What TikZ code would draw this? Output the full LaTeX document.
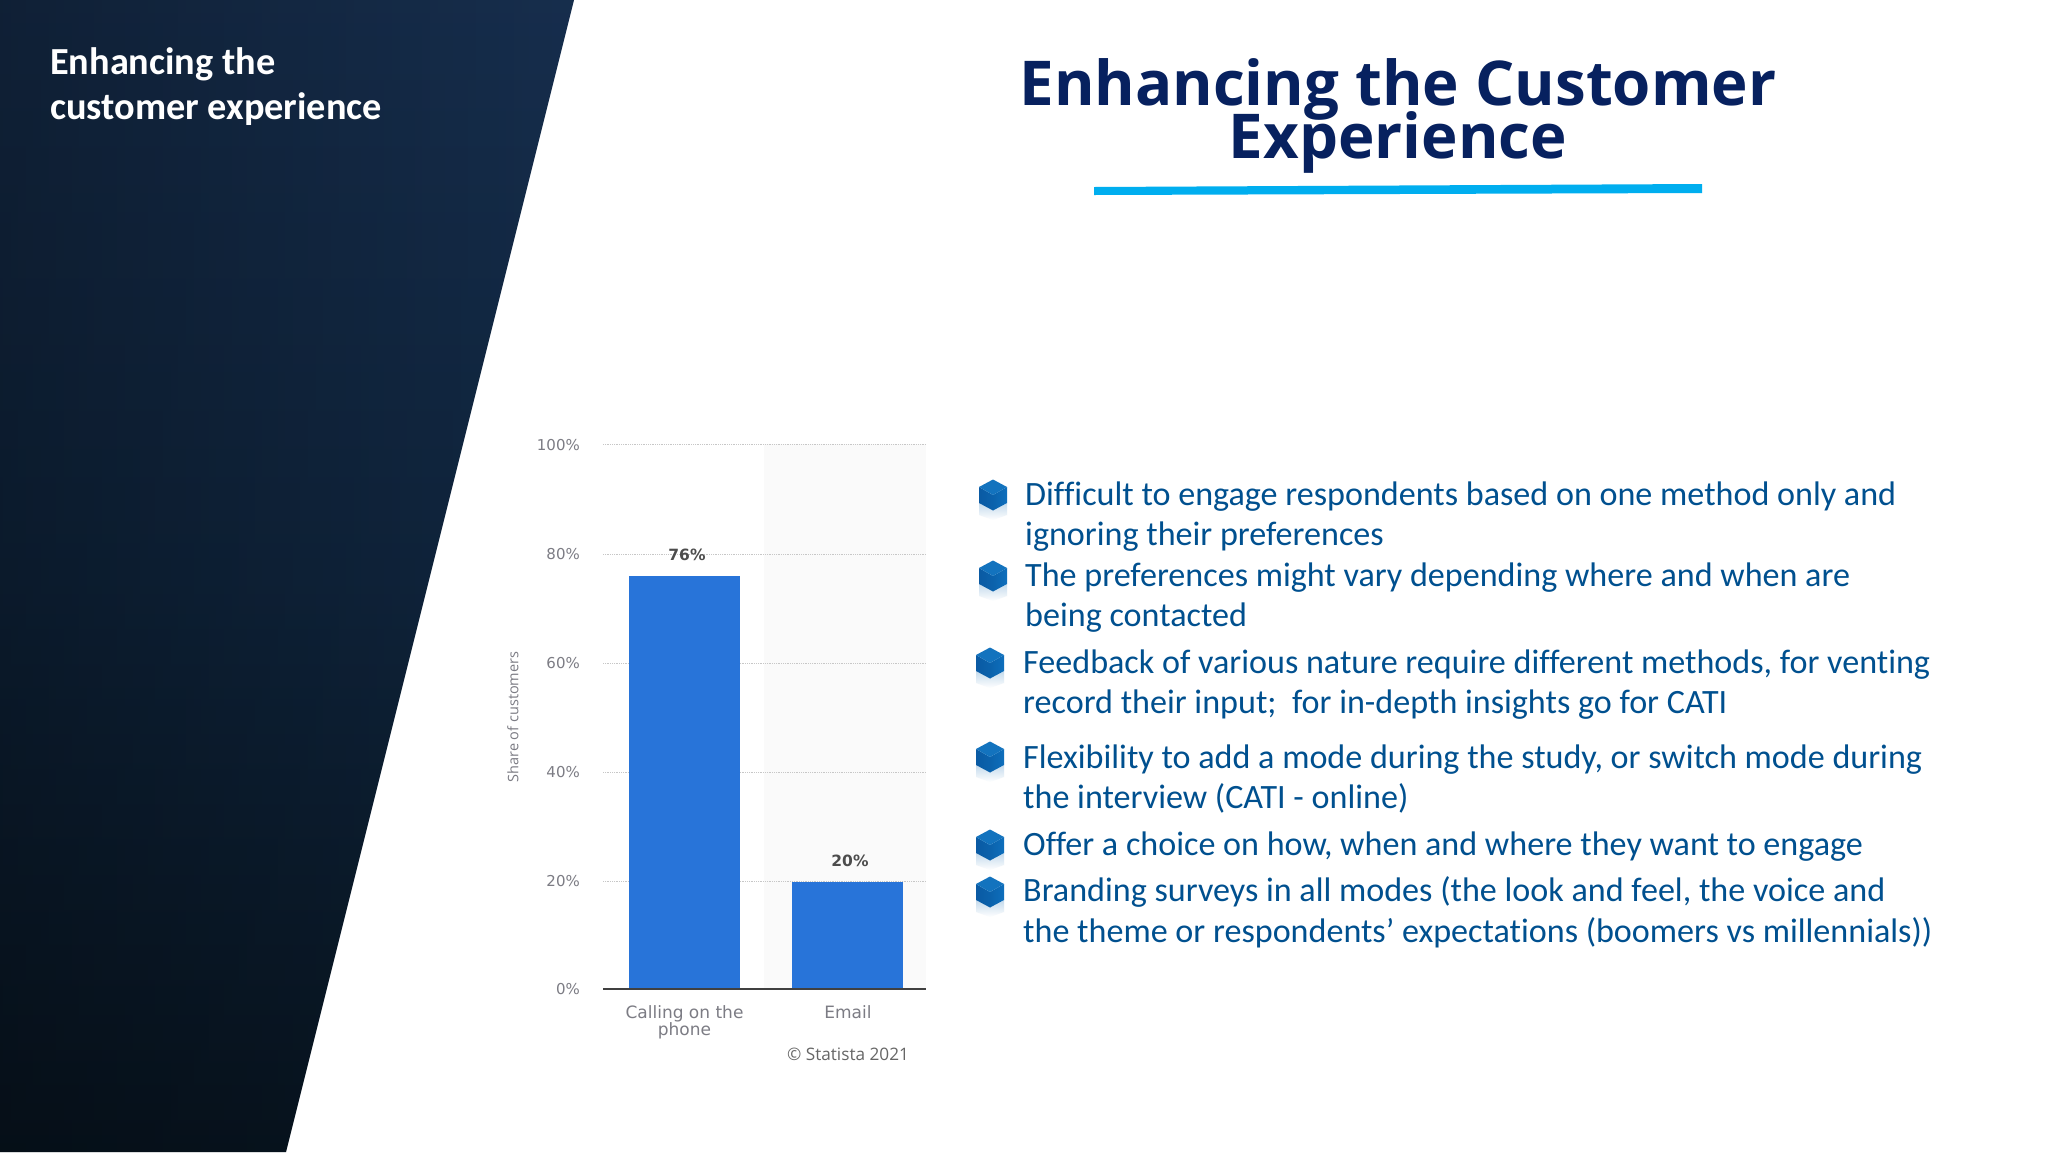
\documentclass[tikz,border=0pt]{standalone}
\usepackage{fontspec}
\usetikzlibrary{fadings}
\setmainfont{Carlito}
\newfontfamily\titlefont{Open Sans}
\newfontfamily\chartfont{DejaVu Sans}
\newfontfamily\bodyfont[Ligatures=CommonOff]{Carlito}
\definecolor{bodyblue}{HTML}{00508F}
\definecolor{titleblue}{HTML}{07215F}
\definecolor{lineblue}{HTML}{00AEEF}
\definecolor{barblue}{HTML}{2874D9}
\definecolor{axisgrey}{HTML}{7C7C84}
\definecolor{panelA}{HTML}{172F4F}
\definecolor{panelB}{HTML}{10263F}
\definecolor{panelC}{HTML}{081521}
\definecolor{cubetop}{HTML}{1373BE}
\definecolor{cubeleft}{HTML}{0A5AA3}
\definecolor{cubemid}{HTML}{0B62AC}
\definecolor{cuberight}{HTML}{0E6FBC}
\definecolor{cubeshadow}{HTML}{C4DAEC}
\tikzfading[name=leftdark, left color=transparent!68, right color=transparent!100]
\tikzset{
  bullettext/.style={anchor=base west,inner sep=0pt,text=bodyblue,font=\bodyfont\fontsize{34.1}{34.1}\selectfont},
  sidetext/.style={anchor=base west,inner sep=0pt,text=white,font=\fontsize{38.3}{38.3}\selectfont\bfseries},
  titletext/.style={anchor=base,inner sep=0pt,text=titleblue,font=\titlefont\fontsize{61.8}{61.8}\selectfont\bfseries},
  ticklabel/.style={anchor=base east,inner sep=0pt,text=axisgrey,font=\chartfont\fontsize{15}{15}\selectfont},
  catlabel/.style={anchor=base,inner sep=0pt,text=axisgrey,font=\chartfont\fontsize{17}{17}\selectfont},
  vallabel/.style={anchor=base,inner sep=0pt,text=black!70,font=\chartfont\fontsize{15.5}{15.5}\selectfont\bfseries},
  gridline/.style={densely dotted,line width=0.8pt,draw=black!22},
  cube/.pic={
    \shade[top color=cubeshadow,bottom color=white] (-14,8) -- (0,15.5) -- (14,8) -- (14,20) -- (0,25) -- (-14,20) -- cycle;
    \shade[left color=cubeleft,right color=cubemid] (-14,-8) -- (0,0) -- (0,15.5) -- (-14,8) -- cycle;
    \shade[left color=cubemid,right color=cuberight] (14,-8) -- (0,0) -- (0,15.5) -- (14,8) -- cycle;
    \fill[cubetop] (0,-15.5) -- (14,-8) -- (0,0) -- (-14,-8) -- cycle;
  }
}
\begin{document}
\begin{tikzpicture}[x=1pt,y=-1pt]
\useasboundingbox (0,0) rectangle (2048,1152);
\fill[white] (0,0) rectangle (2048,1152);
% left panel
\begin{scope}
\clip (0,0) -- (574,0) -- (286,1152) -- (0,1152) -- cycle;
\shade[top color=panelA,bottom color=panelC,middle color=panelB] (-20,-20) rectangle (600,1172);
\fill[black,path fading=leftdark] (-20,-20) rectangle (600,1172);
\end{scope}
\node[sidetext] (side1) at (50,74) {Enhancing the};
\node[sidetext] (side2) at (50,119) {customer experience};
% title
\node[titletext] (title1) at (1398,105) {Enhancing the Customer};
\node[titletext] (title2) at (1398,158) {Experience};
\fill[lineblue] (1094,187) -- (1702,184) -- (1702,193) -- (1094,195) -- cycle;
% chart
\fill[black!2] (764,444) rectangle (926,989);
\coordinate (g0a) at (603,989); \coordinate (g0b) at (926,989);
\coordinate (g20a) at (603,881); \coordinate (g20b) at (926,881);
\coordinate (g40a) at (603,772); \coordinate (g40b) at (926,772);
\coordinate (g60a) at (603,663); \coordinate (g60b) at (926,663);
\coordinate (g80a) at (603,554); \coordinate (g80b) at (926,554);
\coordinate (g100a) at (603,444); \coordinate (g100b) at (926,444);
\draw[gridline] (g20a) -- (g20b);
\draw[gridline] (g40a) -- (g40b);
\draw[gridline] (g60a) -- (g60b);
\draw[gridline] (g80a) -- (g80b);
\draw[gridline] (g100a) -- (g100b);
\fill[barblue] (629,576) rectangle (740,989);
\fill[barblue] (792,882) rectangle (903,989);
\draw[line width=1.4pt,draw=black!75] (g0a) -- (g0b);
\node[ticklabel] (t100) at (580,450) {100\%};
\node[ticklabel] (t80) at (580,559.5) {80\%};
\node[ticklabel] (t60) at (580,668.5) {60\%};
\node[ticklabel] (t40) at (580,777.5) {40\%};
\node[ticklabel] (t20) at (580,886.5) {20\%};
\node[ticklabel] (t0) at (580,994.5) {0\%};
\node[vallabel] (v76) at (687,560) {76\%};
\node[vallabel] (v20) at (850,866) {20\%};
\node[catlabel] (c1a) at (684.5,1018) {Calling on the};
\node[catlabel] (c1b) at (684.5,1035) {phone};
\node[catlabel] (c2) at (848,1018) {Email};
\node[anchor=center,inner sep=0pt,rotate=90,text=axisgrey,font=\titlefont\fontsize{14.5}{14.5}\selectfont] (yl) at (513,717) {Share of customers};
\node[anchor=center,inner sep=0pt,text=black!60,font=\titlefont\fontsize{17.2}{17.2}\selectfont] (cr) at (848,1054) {© Statista 2021};
% bullets
\pic at (993,495) {cube};
\pic at (993,576) {cube};
\pic at (990,663) {cube};
\pic at (990,757) {cube};
\pic at (990,845) {cube};
\pic at (990,892) {cube};
\node[bullettext] (b1a) at (1025,505) {Difficult to engage respondents based on one method only and};
\node[bullettext] (b1b) at (1025,545) {ignoring their preferences};
\node[bullettext] (b2a) at (1025,586) {The preferences might vary depending where and when are};
\node[bullettext] (b2b) at (1025,626) {being contacted};
\node[bullettext] (b3a) at (1023,673) {Feedback of various nature require different methods, for venting};
\node[bullettext] (b3b) at (1023,713) {record their input;\ \ for in-depth insights go for CATI};
\node[bullettext] (b4a) at (1023,768) {Flexibility to add a mode during the study, or switch mode during};
\node[bullettext] (b4b) at (1023,808.5) {the interview (CATI - online)};
\node[bullettext] (b5) at (1023,855) {Offer a choice on how, when and where they want to engage};
\node[bullettext] (b6a) at (1023,901.5) {Branding surveys in all modes (the look and feel, the voice and};
\node[bullettext] (b6b) at (1023,942) {the theme or respondents’ expectations (boomers vs millennials))};
\end{tikzpicture}
\end{document}
